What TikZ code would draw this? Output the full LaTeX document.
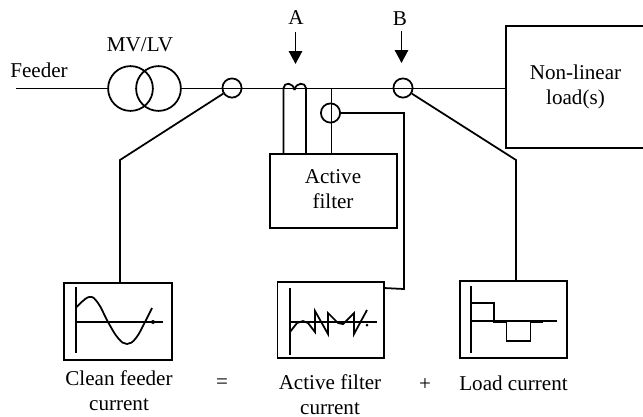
\documentclass[tikz,border=0pt]{standalone}
\usepackage{fontspec}
\setmainfont{Liberation Serif}
\usetikzlibrary{arrows.meta,calc}
\begin{document}
\begin{tikzpicture}[x=0.025cm,y=-0.025cm,
          wire/.style={line width=1.25pt},
          ct/.style={circle,draw,line width=1.25pt,minimum size=0.48cm,inner sep=0pt},
          winding/.style={circle,draw,line width=1.25pt,minimum size=1.12cm,inner sep=0pt},
          lbl/.style={font=\fontsize{15}{17.7}\selectfont,align=center,inner sep=0pt}]
        \useasboundingbox (0,0) rectangle (643,416);
        % feeder and transformer
        \coordinate (feederend) at (16,88.5);
        \node[winding] (primary) at (130.5,88.5){};
        \node[winding] (secondary) at (158.5,88.5){};
        \node[lbl] (feeder) at (39,70){Feeder};
        \node[lbl] (mvlv) at (140,45){MV/LV};
        % boxes
        \draw[wire] (643,26) -- (506,26) -- (506,148) -- (643,148);
        \node[lbl] (load) at (575.5,86.5){Non-linear\\load(s)};
        \coordinate (loadin) at (506,88.5);
        \draw[wire] (270,154) rectangle (397,228);
        \node[lbl] (filter) at (333,189.5){Active\\filter};
        \draw[wire] (64,283) rectangle (172,360);
        \draw[wire] (277.5,282) rectangle (384,358);
        \draw[wire] (460,281) rectangle (567,358);
        % sensors
        \node[ct] (cta) at (232,88){};
        \node[ct] (ctb) at (403,88){};
        \node[ct] (ctf) at (330.5,113){};
        % wiring
        \draw[wire] (feederend) -- (primary);
        \draw[wire] (secondary) -- (loadin);
        \draw[wire] (283.5,154) -- (283.5,88) .. controls (284,82) and (293,82) .. (294.5,90);
        \draw[wire] (306,154) -- (306,88) .. controls (305.5,82) and (296,82) .. (294.5,90);
        \draw[wire] (331.5,88) -- (331.5,154);
        \draw[wire] (cta) -- (120,160) -- (120,283);
        \draw[wire] (ctb) -- (516,160) -- (516,281);
        \draw[wire] (ctf) -- (404,113) -- (404,289) -- (384,288);
        % arrows
        \draw[wire,-{Triangle[length=3.2mm,width=3.3mm]}] (295.5,32) -- (295.5,64);
        \draw[wire,-{Triangle[length=3.2mm,width=3.3mm]}] (401.5,31) -- (401.5,63);
        \node[lbl] (aa) at (296,18){A};
        \node[lbl] (bb) at (400,19){B};
        % clean feeder current
        \draw[wire] (76,287) -- (76,353);
        \draw[wire] (76,322) -- (163,322);
        \draw[wire] plot[smooth,tension=0.7] coordinates {(76.7,307) (89,297) (98,303) (108,322) (118,338) (127,344) (136,338) (145,322) (152,308)};
        \fill (153,322) circle[radius=2];
        % filter current
        \draw[wire] (290,288) -- (290,355);
        \draw[wire] (290,322) -- (377,322);
        \draw[wire] (290,332) -- (297,323) -- (303,321) -- (308,323) -- (315,332) -- (315,311) -- (328,334) -- (328,313) -- (338,323) -- (343,324) -- (354,313) -- (354,334) -- (367,310);
        \fill (367,325) circle[radius=1.5];
        % load current
        \draw[wire] (471,286) -- (471,353);
        \draw[wire] (471,321) -- (557,321);
        \draw[wire] (471,303) -- (494,303) -- (494,322) -- (506.5,322) -- (506.5,341) -- (530.5,341) -- (530.5,322) -- (543,322);
        \node[lbl] (cleantxt) at (119,391){Clean feeder\\current};
        \node[lbl] (eqtxt) at (222,384){=};
        \node[lbl] (filtertxt) at (330,394.5){Active filter\\current};
        \node[lbl] (plustxt) at (425,385){+};
        \node[lbl] (loadtxt) at (513.5,383){Load current};
      \end{tikzpicture}
\end{document}
